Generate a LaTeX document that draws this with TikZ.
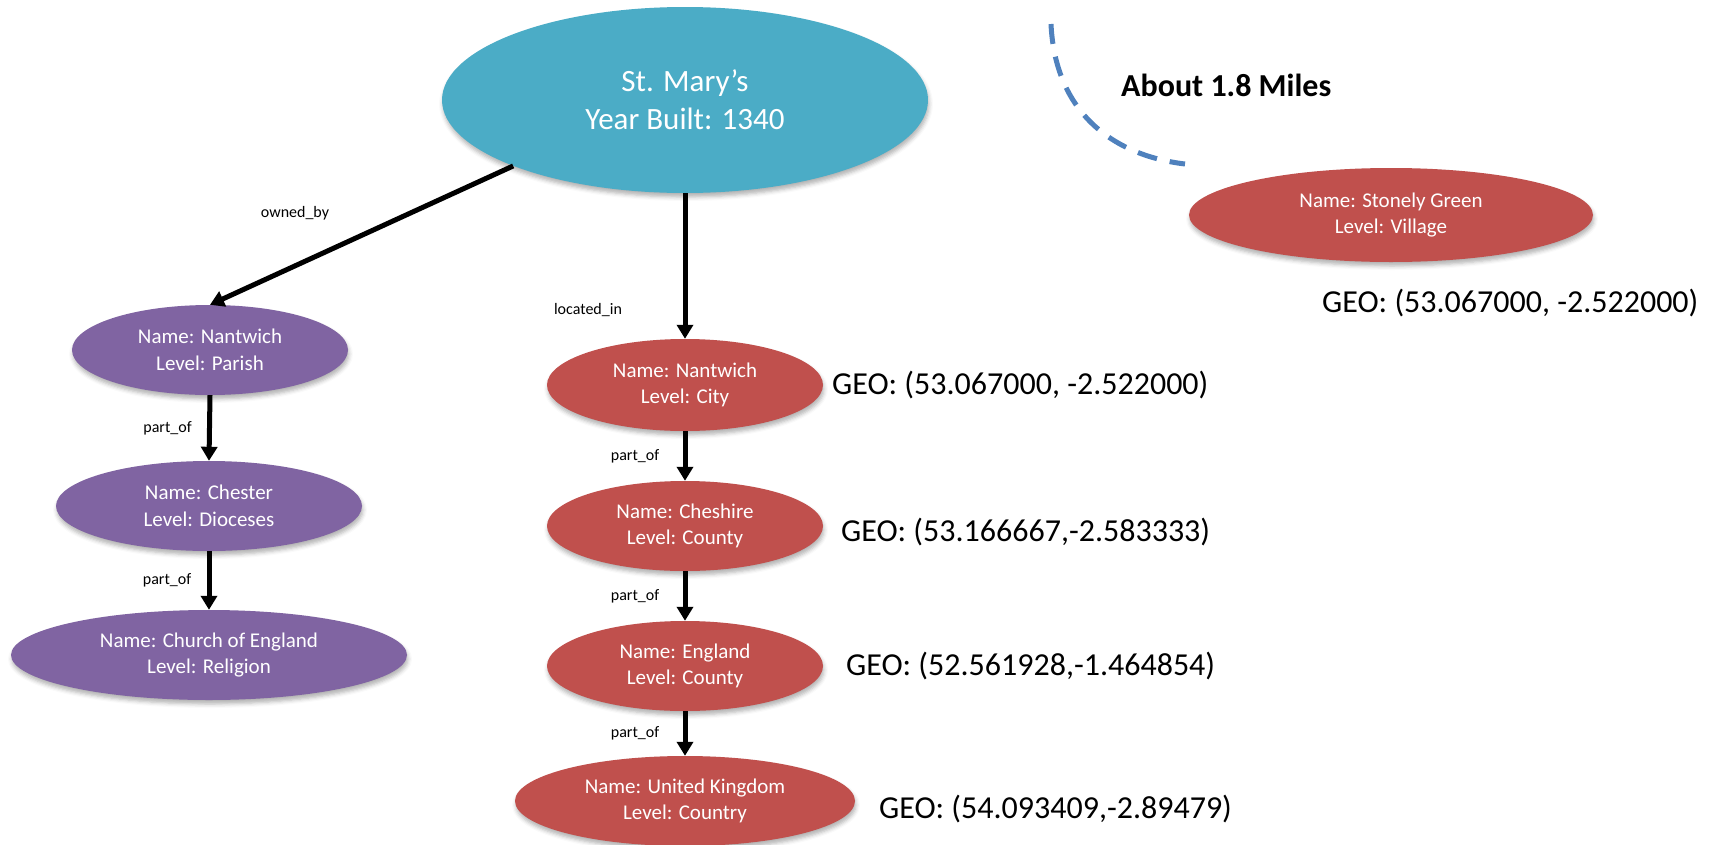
\documentclass[tikz,border=0pt]{standalone}
\usepackage{fontspec}
\setmainfont{Carlito}
\usetikzlibrary{arrows.meta,shapes.geometric,shadows.blur}
\definecolor{aqua}{HTML}{4BACC6}
\definecolor{plum}{HTML}{8064A2}
\definecolor{brick}{HTML}{C0504D}
\definecolor{dashblue}{HTML}{4F81BD}
\begin{document}
\begin{tikzpicture}[x=1pt,y=-1pt,
  ent/.style={ellipse, inner sep=0pt, text=white, align=center,
    font=\fontsize{21}{26.5}\selectfont,
    blur shadow={shadow xshift=1pt, shadow yshift=-4pt, shadow blur radius=4pt, shadow opacity=30}},
  purp/.style={ent, fill=plum, minimum height=90pt},
  redent/.style={ent, fill=brick, minimum height=90pt},
  rel/.style={line width=5pt, -{Triangle[length=14pt,width=16pt]}},
  rlbl/.style={font=\fontsize{16}{19}\selectfont, inner sep=0pt, text=black},
  geo/.style={font=\fontsize{32}{38}\selectfont, anchor=west, inner sep=0pt}]
\useasboundingbox (0,0) rectangle (1717,844);

% nodes
\node[ent, fill=aqua, minimum width=486pt, minimum height=186pt,
      font=\fontsize{31}{38}\selectfont] (stmary) at (685,100) {St. Mary’s\\Year Built: 1340};

\node[purp, minimum width=276pt] (parish) at (210,350) {Name: Nantwich\\Level: Parish};
\node[purp, minimum width=306pt] (chester) at (209,506) {Name: Chester\\Level: Dioceses};
\node[purp, minimum width=396pt] (church) at (209,655) {Name: Church of England\\Level: Religion};

\node[redent, minimum width=276pt, minimum height=92pt] (city) at (685,385) {Name: Nantwich\\Level: City};
\node[redent, minimum width=276pt] (cheshire) at (685,526) {Name: Cheshire\\Level: County};
\node[redent, minimum width=276pt] (england) at (685,666) {Name: England\\Level: County};
\node[redent, minimum width=340pt] (uk) at (685,801) {Name: United Kingdom\\Level: Country};

\node[redent, minimum width=404pt, minimum height=94pt] (stonely) at (1391,215) {Name: Stonely Green\\Level: Village};

% GEO labels
\node[geo] (geocity) at (832,385) {GEO: (53.067000, -2.522000)};
\node[geo] (geocheshire) at (841,532) {GEO: (53.166667,-2.583333)};
\node[geo] (geoengland) at (846,666) {GEO: (52.561928,-1.464854)};
\node[geo] (geouk) at (879,809) {GEO: (54.093409,-2.89479)};
\node[geo] (geostonely) at (1322,303) {GEO: (53.067000, -2.522000)};

\node[anchor=west, inner sep=0pt, font=\fontsize{32}{38}\selectfont\bfseries] (miles) at (1121,85) {About 1.8 Miles};

% dashed arc
\draw[dashblue, line width=5pt, dash pattern=on 20pt off 13pt]
  (1051,24) .. controls (1055,110) and (1110,155) .. (1185,164);

% connectors
\draw[rel] (stmary.-159) -- (parish.north);
\draw[rel] (stmary.south) -- (city.north);
\draw[rel] (parish.south) -- node[rlbl, xshift=-42pt] {part\_of} (chester.north);
\draw[rel] (chester.south) -- node[rlbl, xshift=-42pt] {part\_of} (church.north);
\draw[rel] (city.south) -- node[rlbl, xshift=-50pt] {part\_of} (cheshire.north);
\draw[rel] (cheshire.south) -- node[rlbl, xshift=-50pt] {part\_of} (england.north);
\draw[rel] (england.south) -- node[rlbl, xshift=-50pt] {part\_of} (uk.north);

\node[rlbl] (lblown) at (295,213) {owned\_by};
\node[rlbl] (lblloc) at (588,310) {located\_in};
\end{tikzpicture}
\end{document}
